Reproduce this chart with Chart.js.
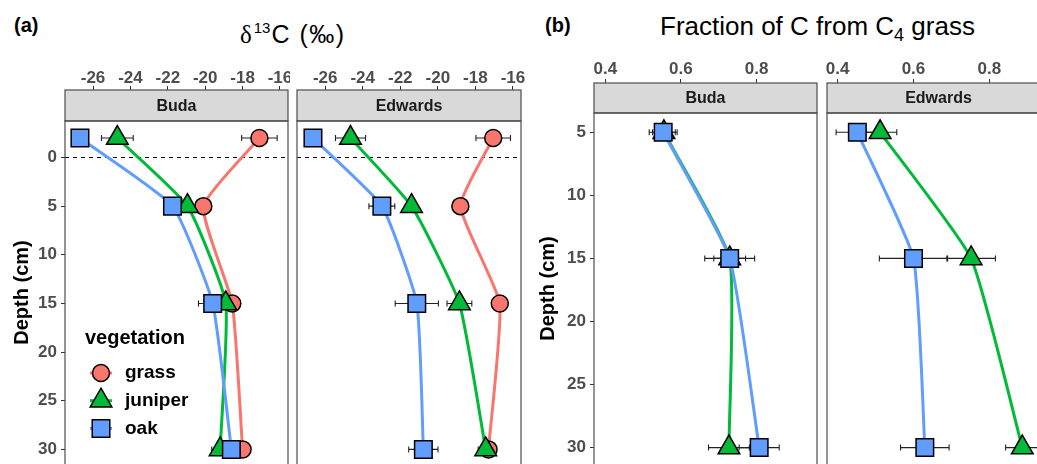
<!DOCTYPE html>
<html>
<head>
<meta charset="utf-8">
<script src="https://cdn.jsdelivr.net/npm/chart.js@4.4.1/dist/chart.umd.min.js"></script>
<style>
  body { margin: 0; width: 1037px; height: 464px; overflow: hidden; background: #fff; position: relative;
         font-family: 'Liberation Sans', Arial, sans-serif; }
  .txt { position: absolute; white-space: nowrap; color: #000; line-height: 1; }
  .serif { font-family: 'Liberation Serif', 'Times New Roman', serif; }
</style>
</head>
<body>
<div class="txt" style="left:14px;top:15px;font-size:20px;font-weight:bold">(a)</div>
<div class="txt" style="left:240px;top:22px;font-size:25px"><span class="serif">δ</span><span style="font-size:15px;position:relative;top:-10px;margin:0 1px 0 2px">13</span><span style="letter-spacing:1.5px">C (‰)</span></div>
<div class="txt" style="left:545px;top:15px;font-size:20px;font-weight:bold">(b)</div>
<div class="txt" style="left:660px;top:13px;font-size:26px">Fraction of C from C<span style="font-size:18px;position:relative;top:6px">4</span> grass</div>

<script>
// depths (cm), negative = litter layer above the soil surface
const depthA = [-2, 5, 15, 30];
const depthB = [5, 15, 30];

// (a) d13C, Buda
const budaGrassD13C = [-17.1, -20.1, -18.55, -18.0];
const budaGrassD13CSe = [0.95, 0.2, 0.2, 0.2];
const budaJuniperD13C = [-24.7, -20.95, -18.9, -19.2];
const budaJuniperD13CSe = [0.85, 0.2, 0.2, 0.45];
const budaOakD13C = [-26.7, -21.75, -19.6, -18.6];
const budaOakD13CSe = [0.2, 0.2, 0.76, 0.2];

// (a) d13C, Edwards
const edwGrassD13C = [-17.05, -18.8, -16.7, -17.3];
const edwGrassD13CSe = [0.92, 0.2, 0.2, 0.2];
const edwJuniperD13C = [-24.65, -21.4, -18.85, -17.45];
const edwJuniperD13CSe = [0.8, 0.2, 0.66, 0.4];
const edwOakD13C = [-26.65, -22.98, -21.12, -20.77];
const edwOakD13CSe = [0.2, 0.69, 1.15, 0.78];

// (b) fraction of C from C4 grass
const budaJuniperFrac = [0.555, 0.729, 0.727];
const budaJuniperFracSe = [0.03, 0.042, 0.054];
const budaOakFrac = [0.553, 0.729, 0.807];
const budaOakFracSe = [0.037, 0.066, 0.053];
const edwJuniperFrac = [0.512, 0.752, 0.887];
const edwJuniperFracSe = [0.044, 0.064, 0.044];
const edwOakFrac = [0.452, 0.6, 0.63];
const edwOakFracSe = [0.056, 0.09, 0.064];

// tick labels
const xTicksA = [-26, -24, -22, -20, -18, -16];
const xTicksB = [0.4, 0.6, 0.8];
const depthTicksA = [0, 5, 10, 15, 20, 25, 30];
const depthTicksB = [5, 10, 15, 20, 25, 30];
const vegetation = ['grass', 'juniper', 'oak'];

const FONT = "'Liberation Sans', Arial, sans-serif";
const colours = { grass: '#F8766D', juniper: '#00BA38', oak: '#619CFF' };
const shapes = { grass: 'circle', juniper: 'triangle', oak: 'rect' };
const radii = { grass: 8.5, juniper: 12.5, oak: 12.4 };
const drawOrder = { grass: 2, juniper: 1, oak: 0 }; // oak on top

function series(name, values, se, depths) {
  const pts = values.map((v, i) => ({ x: v, y: depths[i] }));
  return [
    { data: pts, borderColor: colours[name], borderWidth: 3, pointRadius: 0, tension: 0.15,
      fill: false, clip: false, order: 10 + drawOrder[name] },
    { data: pts, showLine: false, pointStyle: shapes[name], pointRadius: radii[name],
      pointBackgroundColor: colours[name], pointBorderColor: '#000', pointBorderWidth: 1.5,
      clip: false, se: se, order: drawOrder[name] }
  ];
}

function drawMarker(ctx, shape, x, y, r, fill) {
  ctx.beginPath();
  if (shape === 'circle') {
    ctx.arc(x, y, r, 0, Math.PI * 2);
  } else if (shape === 'triangle') {
    const h = r * Math.sin(Math.PI / 3);
    ctx.moveTo(x, y - r);
    ctx.lineTo(x + h, y + r / 2);
    ctx.lineTo(x - h, y + r / 2);
    ctx.closePath();
  } else {
    const s = r * Math.SQRT1_2;
    ctx.rect(x - s, y - s, 2 * s, 2 * s);
  }
  ctx.fillStyle = fill;
  ctx.fill();
  ctx.lineWidth = 1.5;
  ctx.strokeStyle = '#000';
  ctx.stroke();
}

function drawErrorBars(chart) {
  const { ctx, scales } = chart;
  ctx.save();
  ctx.strokeStyle = '#222';
  ctx.lineWidth = 1.1;
  chart.data.datasets.forEach(ds => {
    if (!ds.se) return;
    ds.data.forEach((p, i) => {
      const y = scales.y.getPixelForValue(p.y);
      const x1 = scales.x.getPixelForValue(p.x - ds.se[i]);
      const x2 = scales.x.getPixelForValue(p.x + ds.se[i]);
      ctx.beginPath();
      ctx.moveTo(x1, y); ctx.lineTo(x2, y);
      ctx.moveTo(x1, y - 3); ctx.lineTo(x1, y + 3);
      ctx.moveTo(x2, y - 3); ctx.lineTo(x2, y + 3);
      ctx.stroke();
    });
  });
  ctx.restore();
}

const facetPlugin = {
  id: 'facet',
  beforeDatasetsDraw(chart, args, opts) {
    chart.$errDone = false;
    if (opts.zeroLine) {
      const { ctx, chartArea: a, scales } = chart;
      const y = scales.y.getPixelForValue(0);
      ctx.save();
      ctx.setLineDash([4, 4]);
      ctx.strokeStyle = '#000';
      ctx.lineWidth = 1;
      ctx.beginPath();
      ctx.moveTo(a.left, y); ctx.lineTo(a.right, y);
      ctx.stroke();
      ctx.restore();
    }
  },
  beforeDatasetDraw(chart, args) {
    const ds = chart.data.datasets[args.index];
    if (ds.se && !chart.$errDone) {
      drawErrorBars(chart);
      chart.$errDone = true;
    }
  },
  afterDraw(chart, args, opts) {
    const { ctx, chartArea: a } = chart;
    const h = opts.stripH;
    ctx.save();
    // facet strip
    ctx.fillStyle = '#d9d9d9';
    ctx.fillRect(a.left, a.top - h, a.right - a.left, h);
    ctx.strokeStyle = '#4d4d4d';
    ctx.lineWidth = 1.2;
    ctx.strokeRect(a.left, a.top - h, a.right - a.left, h);
    ctx.strokeRect(a.left, a.top, a.right - a.left, a.bottom - a.top + 5);
    ctx.fillStyle = '#1a1a1a';
    ctx.font = `bold 16px ${FONT}`;
    ctx.textAlign = 'center';
    ctx.textBaseline = 'middle';
    ctx.fillText(opts.label, (a.left + a.right) / 2, a.top - h / 2 + 1);
    // legend
    if (opts.legend) {
      ctx.textAlign = 'left';
      ctx.fillStyle = '#000';
      ctx.font = `bold 20px ${FONT}`;
      ctx.fillText('vegetation', 85, 338);
      ctx.font = `bold 19px ${FONT}`;
      vegetation.forEach((name, i) => {
        const y = 373 + i * 27.7;
        ctx.strokeStyle = colours[name];
        ctx.lineWidth = 3;
        ctx.beginPath();
        ctx.moveTo(90, y); ctx.lineTo(112, y);
        ctx.stroke();
        drawMarker(ctx, shapes[name], 101, y, radii[name], colours[name]);
        ctx.fillStyle = '#000';
        ctx.fillText(name, 125, y);
      });
    }
    ctx.restore();
  }
};

function noPad(s) {
  s.paddingLeft = 0; s.paddingRight = 0; s.paddingTop = 0; s.paddingBottom = 0;
}

function panel(left, top, width, height, cfg) {
  const canvas = document.createElement('canvas');
  canvas.width = width;
  canvas.height = height;
  canvas.style.cssText = `position:absolute;left:${left}px;top:${top}px`;
  document.body.appendChild(canvas);
  const tickFont = { family: FONT, size: 17, weight: 'bold' };
  new Chart(canvas, {
    type: 'line',
    data: { datasets: cfg.datasets },
    options: {
      responsive: false,
      animation: false,
      events: [],
      layout: { autoPadding: false, padding: { left: cfg.padLeft, right: cfg.padRight, top: 0, bottom: 0 } },
      plugins: {
        legend: { display: false },
        tooltip: { enabled: false },
        facet: { label: cfg.label, stripH: cfg.stripH, zeroLine: cfg.zeroLine, legend: cfg.legend }
      },
      scales: {
        x: {
          type: 'linear', position: 'top', min: cfg.xMin, max: cfg.xMax,
          afterBuildTicks: s => { s.ticks = cfg.xTicks.map(v => ({ value: v })); },
          afterFit: s => { s.height = cfg.axisH; noPad(s); },
          ticks: { autoSkip: false, maxRotation: 0, padding: cfg.tickPad, color: '#4d4d4d', font: tickFont,
                   callback: v => String(v) },
          grid: { drawOnChartArea: false, tickLength: cfg.stripH + 4, tickColor: '#333', tickWidth: 1 },
          border: { display: false }
        },
        y: {
          type: 'linear', reverse: true, min: cfg.yMin, max: cfg.yMax, display: cfg.showY,
          afterBuildTicks: s => { s.ticks = cfg.yTicks.map(v => ({ value: v })); },
          afterFit: s => { s.width = cfg.yAxisW; noPad(s); },
          ticks: { autoSkip: false, padding: 4, color: '#4d4d4d', font: tickFont, callback: v => String(v) },
          grid: { drawOnChartArea: false, tickLength: 4, tickColor: '#333', tickWidth: 1 },
          border: { display: false },
          title: { display: true, text: 'Depth (cm)', color: '#000',
                   font: { family: FONT, size: 20, weight: 'bold' }, padding: { top: cfg.titlePad, bottom: 0 } }
        }
      }
    },
    plugins: [facetPlugin]
  });
}

const yRangeA = { yMin: -3.75, yMax: 31.5 };
const yRangeB = { yMin: 3.47, yMax: 31.3 };

panel(0, 0, 290, 464, Object.assign({
  label: 'Buda', xMin: -27.5, xMax: -15.57, xTicks: xTicksA, yTicks: depthTicksA,
  showY: true, yAxisW: 65, titlePad: 10, axisH: 121, stripH: 31, padLeft: 0, padRight: 2, tickPad: -3,
  zeroLine: true, legend: true,
  datasets: [].concat(
    series('grass', budaGrassD13C, budaGrassD13CSe, depthA),
    series('juniper', budaJuniperD13C, budaJuniperD13CSe, depthA),
    series('oak', budaOakD13C, budaOakD13CSe, depthA))
}, yRangeA));

panel(295, 0, 230, 464, Object.assign({
  label: 'Edwards', xMin: -27.5, xMax: -15.57, xTicks: xTicksA, yTicks: depthTicksA,
  showY: false, yAxisW: 0, titlePad: 0, axisH: 121, stripH: 31, padLeft: 2, padRight: 4, tickPad: -3,
  zeroLine: true, legend: false,
  datasets: [].concat(
    series('grass', edwGrassD13C, edwGrassD13CSe, depthA),
    series('juniper', edwJuniperD13C, edwJuniperD13CSe, depthA),
    series('oak', edwOakD13C, edwOakD13CSe, depthA))
}, yRangeA));

panel(530, 0, 290, 464, Object.assign({
  label: 'Buda', xMin: 0.37, xMax: 0.96, xTicks: xTicksB, yTicks: depthTicksB,
  showY: true, yAxisW: 64, titlePad: 6, axisH: 113, stripH: 30, padLeft: 0, padRight: 3, tickPad: -1,
  zeroLine: false, legend: false,
  datasets: [].concat(
    series('juniper', budaJuniperFrac, budaJuniperFracSe, depthB),
    series('oak', budaOakFrac, budaOakFracSe, depthB))
}, yRangeB));

panel(824, 0, 230, 464, Object.assign({
  label: 'Edwards', xMin: 0.372, xMax: 0.96, xTicks: xTicksB, yTicks: depthTicksB,
  showY: false, yAxisW: 0, titlePad: 0, axisH: 113, stripH: 30, padLeft: 3, padRight: 4, tickPad: -1,
  zeroLine: false, legend: false,
  datasets: [].concat(
    series('juniper', edwJuniperFrac, edwJuniperFracSe, depthB),
    series('oak', edwOakFrac, edwOakFracSe, depthB))
}, yRangeB));
</script>
</body>
</html>
